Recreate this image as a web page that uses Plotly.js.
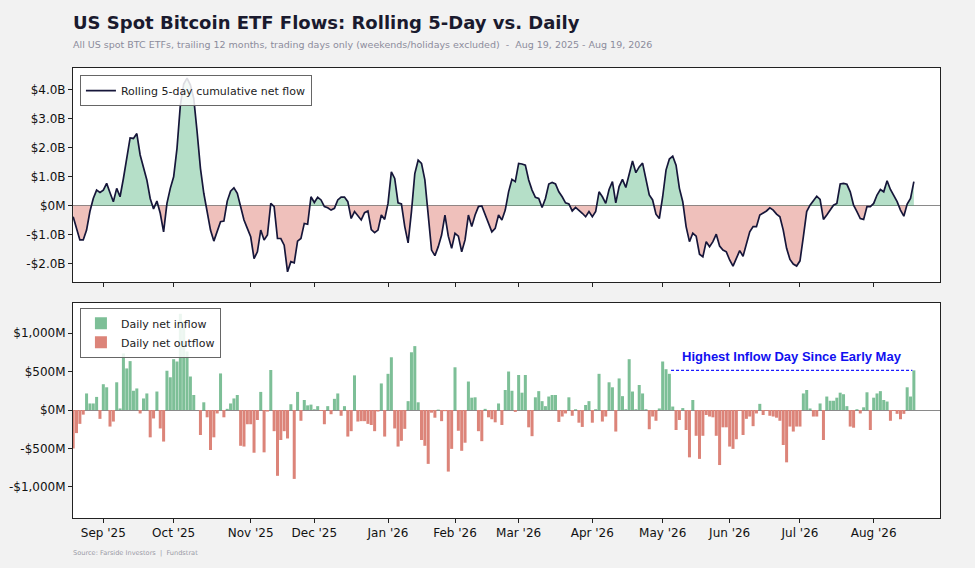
<!DOCTYPE html>
<html>
<head>
<meta charset="utf-8">
<script src="https://cdn.plot.ly/plotly-3.0.1.min.js"></script>
<style>
  html, body { margin: 0; padding: 0; background: #f2f2f2; }
  #chart { width: 975px; height: 568px; }
</style>
</head>
<body>
<div id="chart"></div>
<script>
// ---------------- DATA ----------------
const startDate = '2025-08-19';
const endDate = '2026-08-19';
const marketHolidays = ['2025-09-01','2025-11-27','2025-12-25','2026-01-01','2026-01-19',
                        '2026-02-16','2026-04-03','2026-05-25','2026-06-19','2026-07-03'];

// Daily net flow, $M (one value per trading day)
const dailyFlowM = [
  -500,-300,-180,-60,215,85,85,170,-115,335,
  295,-215,-150,360,20,735,540,635,250,280,
  -45,150,215,-355,-110,240,-240,-410,510,425,
  660,630,1250,1150,760,435,195,0,-325,100,
  -95,-520,-355,-45,475,-95,15,85,150,195,
  -465,-475,-185,-185,-555,-130,235,-550,-20,520,
  -275,-855,-390,-275,-370,75,-895,235,-140,130,
  60,70,10,50,-10,-185,50,-55,145,215,
  -75,50,-345,-275,450,-150,-145,-145,-180,-195,
  -275,-20,345,-345,470,685,-240,-475,-400,-245,
  115,750,830,100,-390,-465,-700,-35,-100,5,
  -145,-15,-800,-505,555,-270,-530,-425,370,160,
  165,-275,-405,15,-95,-120,-160,85,-195,260,
  500,250,-25,455,225,455,-225,-340,165,245,
  115,50,175,195,195,-155,-85,-45,165,-75,
  10,-165,-220,65,115,-165,10,470,-150,-85,
  360,295,-280,410,180,10,660,240,10,325,
  215,10,-250,-85,-140,20,630,530,470,45,
  -260,-130,25,-260,-615,130,-335,-635,-335,-65,
  -85,-95,-335,-715,-225,-225,-475,-505,-380,-10,
  -325,-115,-85,-210,-45,80,-65,-10,-75,-85,
  -100,-140,-455,-680,-215,-280,-215,-215,215,260,
  20,-85,-85,85,-390,175,120,120,160,225,
  205,50,-215,-230,10,-45,35,230,-260,160,
  215,245,130,110,-140,-10,-50,-120,-50,295,
  175,515
];

// Rolling 5-day cumulative net flow, $B
const rolling5dB = [
  -0.38,-0.78,-1.18,-1.18,-0.84,-0.20,0.25,0.54,0.46,0.54,
  0.77,0.45,0.14,0.60,0.31,0.94,1.63,2.34,2.32,2.49,
  1.75,1.34,0.89,0.25,-0.11,0.16,-0.26,-0.90,0.08,0.60,
  1.00,1.98,3.47,4.20,4.40,4.16,3.70,2.55,1.29,0.43,
  -0.20,-0.84,-1.22,-0.90,-0.55,-0.53,0.16,0.50,0.62,0.43,
  -0.03,-0.49,-0.78,-1.07,-1.82,-1.59,-0.84,-1.18,-1.01,0.08,
  -0.03,-1.13,-1.13,-1.36,-2.28,-1.93,-1.97,-1.22,-1.13,-0.61,
  -0.64,0.31,0.11,0.29,0.20,-0.03,-0.07,-0.15,-0.09,0.20,
  0.30,0.30,0.14,-0.44,-0.20,-0.35,-0.49,-0.24,-0.18,-0.82,
  -0.93,-0.84,-0.32,-0.47,0.08,1.17,0.94,0.10,0.06,-0.72,
  -1.28,-0.20,1.11,1.57,1.46,0.89,-0.32,-1.53,-1.72,-1.41,
  -1.01,-0.32,-1.05,-1.47,-0.95,-1.05,-1.59,-1.18,-0.32,-0.72,
  -0.32,-0.03,-0.01,-0.32,-0.61,-0.90,-0.78,-0.32,-0.49,-0.15,
  0.48,0.91,0.83,1.46,1.44,1.40,0.89,0.54,0.29,0.25,
  -0.06,0.25,0.75,0.80,0.75,0.48,0.31,0.10,0.06,-0.18,
  -0.06,-0.15,-0.26,-0.38,-0.20,-0.38,-0.20,0.48,0.31,0.08,
  0.56,0.83,0.10,0.66,0.91,0.63,1.11,1.54,1.14,1.34,
  1.47,0.92,0.37,0.20,-0.29,-0.44,0.31,1.23,1.61,1.71,
  1.40,0.60,0.14,-0.72,-1.24,-0.95,-1.05,-1.67,-1.76,-1.24,
  -1.41,-1.24,-0.98,-1.39,-1.53,-1.59,-1.87,-2.08,-1.79,-1.55,
  -1.74,-1.36,-0.90,-0.72,-0.72,-0.32,-0.26,-0.18,-0.07,-0.15,
  -0.29,-0.38,-0.84,-1.47,-1.85,-2.01,-2.08,-1.90,-1.07,-0.20,
  0.02,0.17,0.33,0.22,-0.47,-0.32,-0.15,0.02,0.08,0.75,
  0.77,0.74,0.48,0.02,-0.20,-0.44,-0.47,-0.03,-0.03,0.08,
  0.37,0.56,0.48,0.86,0.56,0.37,0.14,-0.15,-0.36,0.06,
  0.25,0.83
];

const monthTickLabels = ["Sep '25","Oct '25","Nov '25","Dec '25","Jan '26","Feb '26",
                         "Mar '26","Apr '26","May '26","Jun '26","Jul '26","Aug '26"];
const topTickVals = [-2, -1, 0, 1, 2, 3, 4];
const topTickText = ['-$2.0B', '-$1.0B', '$0M', '$1.0B', '$2.0B', '$3.0B', '$4.0B'];
const botTickVals = [-1000, -500, 0, 500, 1000];
const botTickText = ['-$1,000M', '-$500M', '$0M', '$500M', '$1,000M'];

// ---------------- BUILD ----------------
const tradingDays = [];
{
  const d = new Date(startDate + 'T00:00:00Z');
  const end = new Date(endDate + 'T00:00:00Z');
  while (d <= end) {
    const iso = d.toISOString().slice(0, 10);
    const wd = d.getUTCDay();
    if (wd !== 0 && wd !== 6 && !marketHolidays.includes(iso)) tradingDays.push(iso);
    d.setUTCDate(d.getUTCDate() + 1);
  }
}
const idx = dailyFlowM.map((_, i) => i);
const monthStartIdx = [];
for (let i = 1; i < tradingDays.length; i++) {
  if (tradingDays[i].slice(5, 7) !== tradingDays[i - 1].slice(5, 7)) monthStartIdx.push(i);
}

function signedFill(xs, ys, positive) {
  const fx = [], fy = [];
  for (let i = 0; i < ys.length; i++) {
    const v = ys[i];
    fx.push(xs[i]);
    fy.push(positive ? Math.max(v, 0) : Math.min(v, 0));
    if (i < ys.length - 1) {
      const w = ys[i + 1];
      if ((v > 0 && w < 0) || (v < 0 && w > 0)) {
        fx.push(xs[i] + v / (v - w));
        fy.push(0);
      }
    }
  }
  return { fx, fy };
}
const posFill = signedFill(idx, rolling5dB, true);
const negFill = signedFill(idx, rolling5dB, false);

const inflow = dailyFlowM.map(v => (v >= 0 ? v : null));
const outflow = dailyFlowM.map(v => (v < 0 ? v : null));

const lastI = dailyFlowM.length - 1;
const lastVal = dailyFlowM[lastI];
let prevHigher = lastI - 1;
while (prevHigher > 0 && dailyFlowM[prevHigher] <= lastVal) prevHigher--;
const lineX0 = prevHigher + 1.5;
const lineX1 = lastI - 0.45;

const traces = [
  { x: posFill.fx, y: posFill.fy, type: 'scatter', mode: 'lines', fill: 'tozeroy',
    fillcolor: 'rgba(60,170,110,0.38)', line: { width: 0 }, hoverinfo: 'skip',
    showlegend: false, xaxis: 'x', yaxis: 'y' },
  { x: negFill.fx, y: negFill.fy, type: 'scatter', mode: 'lines', fill: 'tozeroy',
    fillcolor: 'rgba(214,90,75,0.38)', line: { width: 0 }, hoverinfo: 'skip',
    showlegend: false, xaxis: 'x', yaxis: 'y' },
  { x: idx, y: rolling5dB, type: 'scatter', mode: 'lines', name: 'Rolling 5-day cumulative net flow',
    line: { color: '#16163a', width: 1.7 }, xaxis: 'x', yaxis: 'y', legend: 'legend' },
  { x: idx, y: inflow, type: 'bar', name: 'Daily net inflow', width: 0.9,
    marker: { color: '#7dbf97', line: { width: 0 } }, xaxis: 'x2', yaxis: 'y2', legend: 'legend2' },
  { x: idx, y: outflow, type: 'bar', name: 'Daily net outflow', width: 0.9,
    marker: { color: '#dc8479', line: { width: 0 } }, xaxis: 'x2', yaxis: 'y2', legend: 'legend2' }
];

const xRange = [-0.05, 258.8];
const axisCommon = {
  showline: true, mirror: true, linecolor: '#222', linewidth: 1,
  ticks: 'outside', ticklen: 4, tickwidth: 1, tickcolor: '#222',
  showgrid: false, tickfont: { family: 'DejaVu Sans', size: 12, color: '#111' }
};

const legendCommon = {
  xanchor: 'left', yanchor: 'top', bgcolor: 'rgba(255,255,255,0.85)',
  bordercolor: '#666', borderwidth: 1, font: { family: 'DejaVu Sans', size: 11, color: '#222' },
  tracegroupgap: 0
};

const layout = {
  width: 975, height: 568,
  paper_bgcolor: '#f2f2f2', plot_bgcolor: '#ffffff',
  margin: { l: 73, r: 35, t: 68, b: 50 },
  font: { family: 'DejaVu Sans', size: 12, color: '#111' },
  barmode: 'overlay',
  title: {
    text: '<b>US Spot Bitcoin ETF Flows: Rolling 5-Day vs. Daily</b>',
    font: { family: 'DejaVu Sans', size: 18, color: '#1a1a2e' },
    xref: 'container', x: 73 / 975, xanchor: 'left',
    yref: 'container', y: 1 - 23 / 568, yanchor: 'middle'
  },
  xaxis: Object.assign({}, axisCommon, {
    domain: [0, 1], anchor: 'y', range: xRange, tickvals: monthStartIdx,
    showticklabels: false, zeroline: false
  }),
  xaxis2: Object.assign({}, axisCommon, {
    domain: [0, 1], anchor: 'y2', range: xRange, matches: 'x', tickvals: monthStartIdx,
    ticktext: monthTickLabels, zeroline: false
  }),
  yaxis: Object.assign({}, axisCommon, {
    domain: [236 / 450, 1], anchor: 'x', range: [-2.63, 4.75],
    tickvals: topTickVals, ticktext: topTickText,
    zeroline: true, zerolinecolor: '#8a8a8a', zerolinewidth: 1
  }),
  yaxis2: Object.assign({}, axisCommon, {
    domain: [0, 215 / 450], anchor: 'x2', range: [-1403, 1390],
    tickvals: botTickVals, ticktext: botTickText,
    zeroline: true, zerolinecolor: '#8a8a8a', zerolinewidth: 1
  }),
  legend: Object.assign({}, legendCommon, { x: 0.008, y: 0.984 }),
  legend2: Object.assign({}, legendCommon, { x: 0.008, y: 0.467 }),
  shapes: [
    { type: 'line', xref: 'x2', yref: 'y2', x0: lineX0, x1: lineX1, y0: lastVal, y1: lastVal,
      line: { color: '#1a1aff', width: 1.2, dash: '3px,2px' }, layer: 'above' }
  ],
  annotations: [
    { text: 'All US spot BTC ETFs, trailing 12 months, trading days only (weekends/holidays excluded)  -  Aug 19, 2025 - Aug 19, 2026',
      xref: 'paper', yref: 'paper', x: 0, y: (518 - 44) / 450, xanchor: 'left', yanchor: 'middle', xshift: -2,
      showarrow: false, font: { family: 'DejaVu Sans', size: 9.5, color: '#8c8c9c' } },
    { text: 'Source: Farside Investors  |  Fundstrat',
      xref: 'paper', yref: 'paper', x: 0, y: (518 - 553) / 450, xanchor: 'left', yanchor: 'middle', xshift: -2,
      showarrow: false, font: { family: 'DejaVu Sans', size: 6.6, color: '#9a9aa6' } },
    { text: '<b>Highest Inflow Day Since Early May</b>',
      xref: 'x2', yref: 'y2', x: (lineX0 + lineX1) / 2, y: lastVal, xanchor: 'center', yanchor: 'bottom',
      yshift: 4, showarrow: false, font: { family: 'Liberation Sans, Arial', size: 13, color: '#1010f0' } }
  ]
};

Plotly.newPlot('chart', traces, layout, { displayModeBar: false, staticPlot: true });
</script>
</body>
</html>
